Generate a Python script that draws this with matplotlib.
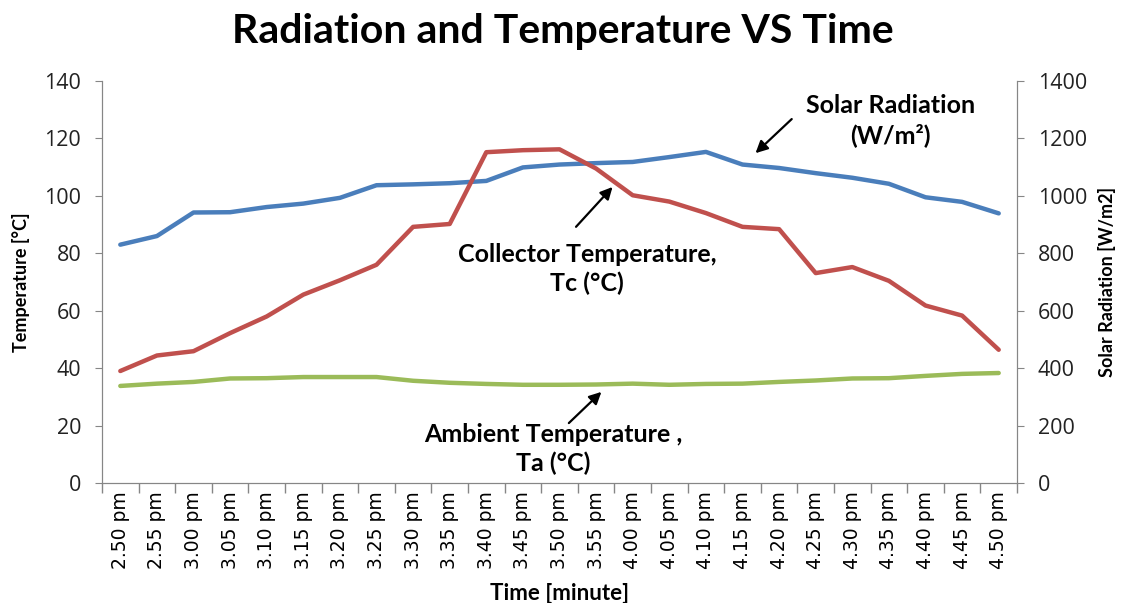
import matplotlib
matplotlib.use('Agg')
import matplotlib.pyplot as plt

plt.rcParams['font.family'] = ['Lato', 'DejaVu Sans']

times = ['2.50 pm', '2.55 pm', '3.00 pm', '3.05 pm', '3.10 pm', '3.15 pm', '3.20 pm',
         '3.25 pm', '3.30 pm', '3.35 pm', '3.40 pm', '3.45 pm', '3.50 pm', '3.55 pm',
         '4.00 pm', '4.05 pm', '4.10 pm', '4.15 pm', '4.20 pm', '4.25 pm', '4.30 pm',
         '4.35 pm', '4.40 pm', '4.45 pm', '4.50 pm']

# collector temperature Tc (deg C)
collector = [39.0, 44.4, 45.9, 52.2, 58.0, 65.6, 70.6, 76.0, 89.2, 90.2, 115.2, 115.9,
             116.2, 109.5, 100.2, 98.0, 94.0, 89.2, 88.4, 73.1, 75.2, 70.4, 61.8, 58.3, 46.4]

# ambient temperature Ta (deg C)
ambient = [33.8, 34.6, 35.2, 36.4, 36.5, 36.9, 36.9, 36.9, 35.6, 34.9, 34.5, 34.2,
           34.2, 34.3, 34.6, 34.2, 34.5, 34.6, 35.2, 35.7, 36.4, 36.5, 37.3, 38.0, 38.3]

# solar radiation (W/m2)
radiation = [830, 860, 942, 943, 961, 973, 993, 1037, 1040, 1044, 1052, 1099, 1109, 1114,
             1118, 1135, 1153, 1109, 1097, 1079, 1063, 1042, 995, 979, 939]

C_BLUE = '#4a7ebb'
C_RED = '#c0504d'
C_GREEN = '#9bbb59'
GRID_GREY = '#868686'

fig = plt.figure(figsize=(11.26, 6.03), dpi=100)
ax = fig.add_axes([0.0906, 0.199, 0.8126, 0.6667])
ax2 = ax.twinx()

x = list(range(len(times)))
ax2.plot(x, radiation, color=C_BLUE, lw=3.2, solid_capstyle='round', zorder=3)
ax.plot(x, collector, color=C_RED, lw=3.2, solid_capstyle='round', zorder=3)
ax.plot(x, ambient, color=C_GREEN, lw=3.2, solid_capstyle='round', zorder=3)
ax.set_zorder(ax2.get_zorder() + 1)
ax.patch.set_visible(False)

ax.set_xlim(-0.5, len(times) - 0.5)
ax.set_ylim(0, 140)
ax2.set_ylim(0, 1400)
ax.set_yticks(range(0, 141, 20))
ax2.set_yticks(range(0, 1401, 200))

# category labels centred, tick marks on the boundaries
ax.set_xticks(x)
ax.set_xticklabels(times, rotation=90, fontsize=13.5, family=['DejaVu Sans'])
ax.tick_params(axis='x', length=0, pad=6)
ax.set_xticks([i - 0.5 for i in range(len(times) + 1)], minor=True)
ax.tick_params(axis='x', which='minor', length=7, color=GRID_GREY, width=1)

for a in (ax, ax2):
    for s in a.spines.values():
        s.set_color(GRID_GREY)
    a.spines['top'].set_visible(False)
    a.tick_params(axis='y', length=5, color=GRID_GREY, labelsize=15.5, pad=10)
for lbl in ax.get_yticklabels() + ax2.get_yticklabels():
    lbl.set_family(['Open Sans', 'DejaVu Sans'])
    lbl.set_color('#222222')

ax.set_ylabel('Temperature [°C]', fontsize=13, fontweight='bold', labelpad=10)
ax2.set_ylabel('Solar Radiation [W/m2]', fontsize=13, fontweight='bold', labelpad=8)
ax.set_xlabel('Time [minute]', fontsize=16, fontweight='bold', labelpad=10)

fig.text(0.5, 0.948, 'Radiation and Temperature VS Time', ha='center', va='center',
         fontsize=29.5, fontweight='bold')

# annotations
ann = dict(fontsize=18, fontweight='bold', ha='center', va='center', linespacing=1.3)
ax.text(21.04, 126.1, 'Solar Radiation\n(W/m\u00b2)', **ann)
ax.text(12.76, 74.5, 'Collector Temperature,\nTc (°C)', **ann)
ax.text(11.83, 11.8, 'Ambient Temperature ,\nTa (°C)', **ann)

arrow = dict(arrowstyle='-|>', color='black', lw=1.6, mutation_scale=18)
ax.annotate('', xy=(17.3, 114.2), xytext=(18.4, 127.4), arrowprops=arrow)
ax.annotate('', xy=(13.5, 103.8), xytext=(12.4, 88.5), arrowprops=arrow)
ax.annotate('', xy=(13.2, 32.4), xytext=(12.2, 20.2), arrowprops=arrow)

fig.savefig('out.png', dpi=100)
